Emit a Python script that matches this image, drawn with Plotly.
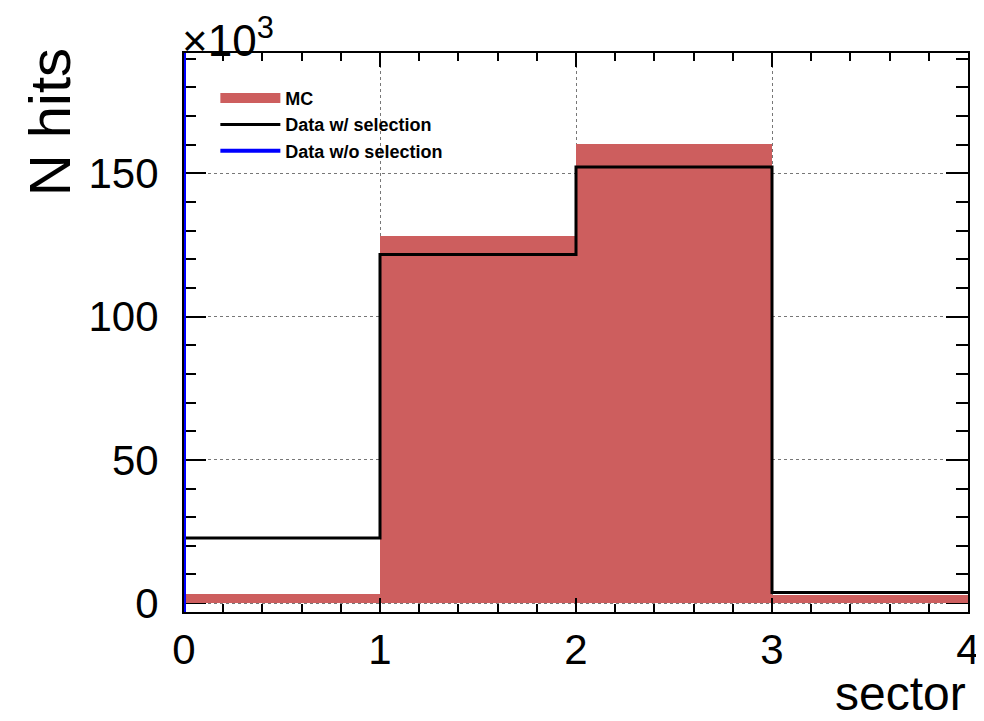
import plotly.graph_objects as go

# ---- data ----
bin_edges = [0, 1, 2, 3, 4]
mc_values = [3100, 128300, 160200, 3000]
data_sel_values = [22700, 121700, 152200, 3700]
data_nosel_x = [0, 0]
data_nosel_y = [-3100, 192000]
y_tickvals = [0, 50000, 100000, 150000]
y_ticktext = ["0", "50", "100", "150"]
x_tickvals = [0, 1, 2, 3, 4]
x_ticktext = ["0", "1", "2", "3", "4"]

centers = [(bin_edges[i] + bin_edges[i + 1]) / 2 for i in range(len(mc_values))]
widths = [bin_edges[i + 1] - bin_edges[i] for i in range(len(mc_values))]

MC_COLOR = "#CD5E5E"

fig = go.Figure()
fig.add_trace(go.Bar(
    x=centers, y=mc_values, width=widths, name="MC", showlegend=False,
    marker=dict(color=MC_COLOR, line=dict(width=0)),
))
# legend entry for MC (wide filled box like ROOT)
fig.add_trace(go.Scatter(
    x=[None], y=[None], mode="lines", name="MC",
    line=dict(color=MC_COLOR, width=16),
))
fig.add_trace(go.Scatter(
    x=bin_edges, y=data_sel_values + [data_sel_values[-1]],
    mode="lines", line=dict(color="black", width=3, shape="hv"),
    name="Data w/ selection",
))
fig.add_trace(go.Scatter(
    x=data_nosel_x, y=data_nosel_y, mode="lines",
    line=dict(color="blue", width=4), name="Data w/o selection",
))

font_fam = "Liberation Sans, Arial, sans-serif"
fig.update_layout(
    width=976, height=713,
    margin=dict(l=176, r=16, t=45, b=109, autoexpand=False),
    paper_bgcolor="white", plot_bgcolor="white",
    bargap=0,
    font=dict(family=font_fam, color="black"),
    showlegend=True,
    legend=dict(
        x=0.04, y=0.952, xanchor="left", yanchor="top",
        bgcolor="rgba(0,0,0,0)", borderwidth=0,
        font=dict(family=font_fam, size=18, color="black", weight="bold"),
        itemwidth=60, tracegroupgap=0,
    ),
    xaxis=dict(
        range=[0, 4], tickvals=x_tickvals, ticktext=x_ticktext,
        ticks="inside", ticklen=14, tickwidth=2, tickcolor="black",
        showline=True, linecolor="black", linewidth=2, mirror="ticks",
        showgrid=True, gridcolor="#777777", griddash="dot", gridwidth=1,
        tickfont=dict(size=42, family=font_fam),
        ticklabelstandoff=0, automargin=False,
        minor=dict(ticks="inside", ticklen=8, tickwidth=2, tickcolor="black", dtick=0.2, showgrid=False),
        zeroline=False,
    ),
    yaxis=dict(
        range=[-3100, 192000], tickvals=y_tickvals, ticktext=y_ticktext,
        ticks="inside", ticklen=22, tickwidth=2, tickcolor="black",
        showline=True, linecolor="black", linewidth=2, mirror="ticks",
        showgrid=True, gridcolor="#777777", griddash="dot", gridwidth=1,
        tickfont=dict(size=42, family=font_fam),
        ticklabelstandoff=15, automargin=False, layer="below traces",
        minor=dict(ticks="inside", ticklen=12, tickwidth=2, tickcolor="black", dtick=10000, tick0=0, showgrid=False),
        zeroline=False,
    ),
    annotations=[
        dict(text="sector", xref="paper", yref="paper", x=1.0, y=-0.145,
             xanchor="right", yanchor="middle", showarrow=False,
             font=dict(size=48, family=font_fam, color="black")),
        dict(text="N hits", xref="paper", yref="paper", x=-0.216, y=1.0,
             xanchor="left", yanchor="top", textangle=-90, showarrow=False,
             yshift=7,
             font=dict(size=58, family=font_fam, color="black")),
        dict(text="×10<sup>3</sup>", xref="paper", yref="paper", x=-0.005, y=1.0,
             xanchor="left", yanchor="bottom", yshift=-14, showarrow=False,
             font=dict(size=44, family=font_fam, color="black")),
    ],
)

fig.write_html("out.html")
